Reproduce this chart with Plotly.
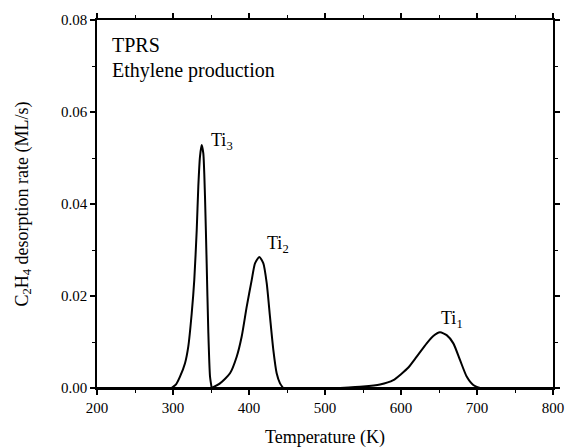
import plotly.graph_objects as go

# Ti3 peak (K, ML/s)
ti3_T = [298, 304, 309.2, 315.8, 320.1, 324.6, 328.0, 331.2, 333.3, 335.5, 337.7, 339.9, 342.1, 344.3, 346.4, 348.7, 350.9]
ti3_r = [0, 0.0008, 0.00246, 0.0054, 0.0090, 0.0162, 0.0235, 0.0343, 0.0438, 0.0503, 0.0528, 0.0510, 0.0416, 0.0271, 0.0126, 0.0025, 0]

# Ti2 peak
ti2_T = [350.9, 361.8, 375.0, 383.8, 390.4, 397.0, 403.6, 407.9, 413.6, 418.9, 423.3, 427.6, 432.0, 436.4, 440.8, 445.0]
ti2_r = [0, 0.0010, 0.0032, 0.0068, 0.0112, 0.0177, 0.0235, 0.0271, 0.0285, 0.0271, 0.0228, 0.0155, 0.0083, 0.0032, 0.0010, 0]

# Ti1 peak
ti1_T = [520.0, 550.0, 572.4, 589.9, 600.0, 610.0, 620.7, 633.8, 642.5, 651.3, 660.1, 668.9, 677.6, 686.4, 695.1, 703.9]
ti1_r = [0, 0.0003, 0.00075, 0.0017, 0.0030, 0.0045, 0.0068, 0.0097, 0.0113, 0.0121, 0.0115, 0.0097, 0.0061, 0.0025, 0.00065, 0]

# flat baseline
base_T = [200, 800]
base_r = [0, 0]

labels = ["Ti<sub>3</sub>", "Ti<sub>2</sub>", "Ti<sub>1</sub>"]
label_T = [347.5, 421.0, 650.5]
label_r = [0.0535, 0.0313, 0.0149]

FONT = "Liberation Serif"

fig = go.Figure()
fig.add_trace(go.Scatter(x=base_T, y=base_r, mode="lines", line=dict(color="black", width=2),
                         showlegend=False, hoverinfo="skip"))
for T, r in [(ti3_T, ti3_r), (ti2_T, ti2_r), (ti1_T, ti1_r)]:
    fig.add_trace(go.Scatter(x=T, y=r, mode="lines", line=dict(color="black", width=2, shape="spline", smoothing=0.6),
                             showlegend=False, hoverinfo="skip"))

for t, x, y in zip(labels, label_T, label_r):
    fig.add_annotation(x=x, y=y, text=t, showarrow=False, xanchor="left", yanchor="middle",
                       font=dict(family=FONT, size=18, color="black"))

fig.add_annotation(x=217, y=0.0746, text="TPRS", showarrow=False, xanchor="left", yanchor="middle",
                   font=dict(family=FONT, size=20, color="black"))
fig.add_annotation(x=217, y=0.0690, text="Ethylene production", showarrow=False, xanchor="left", yanchor="middle",
                   font=dict(family=FONT, size=20, color="black"))

axis_common = dict(showline=True, linecolor="black", linewidth=1.5, mirror="allticks",
                   ticks="outside", ticklen=5, tickwidth=1.5, tickcolor="black",
                   showgrid=False, zeroline=False, automargin=False,
                   tickfont=dict(family=FONT, size=15, color="black"))

fig.update_xaxes(range=[200, 800], dtick=100, tick0=200,
                 minor=dict(dtick=50, ticks="outside", ticklen=3, tickwidth=1.2, tickcolor="black"),
                 title=dict(text="Temperature (K)", font=dict(family=FONT, size=18, color="black"), standoff=18),
                 **axis_common)
fig.update_yaxes(range=[0, 0.08], dtick=0.02, tick0=0, tickformat=".2f",
                 minor=dict(dtick=0.01, ticks="outside", ticklen=3, tickwidth=1.2, tickcolor="black"),
                 title=dict(text="C<sub>2</sub>H<sub>4</sub> desorption rate (ML/s)",
                            font=dict(family=FONT, size=18, color="black"), standoff=28),
                 **axis_common)

fig.update_layout(width=567, height=448, margin=dict(l=97, r=14, t=20, b=60),
                  plot_bgcolor="white", paper_bgcolor="white",
                  font=dict(family=FONT, color="black"))

fig.write_html("out.html")
